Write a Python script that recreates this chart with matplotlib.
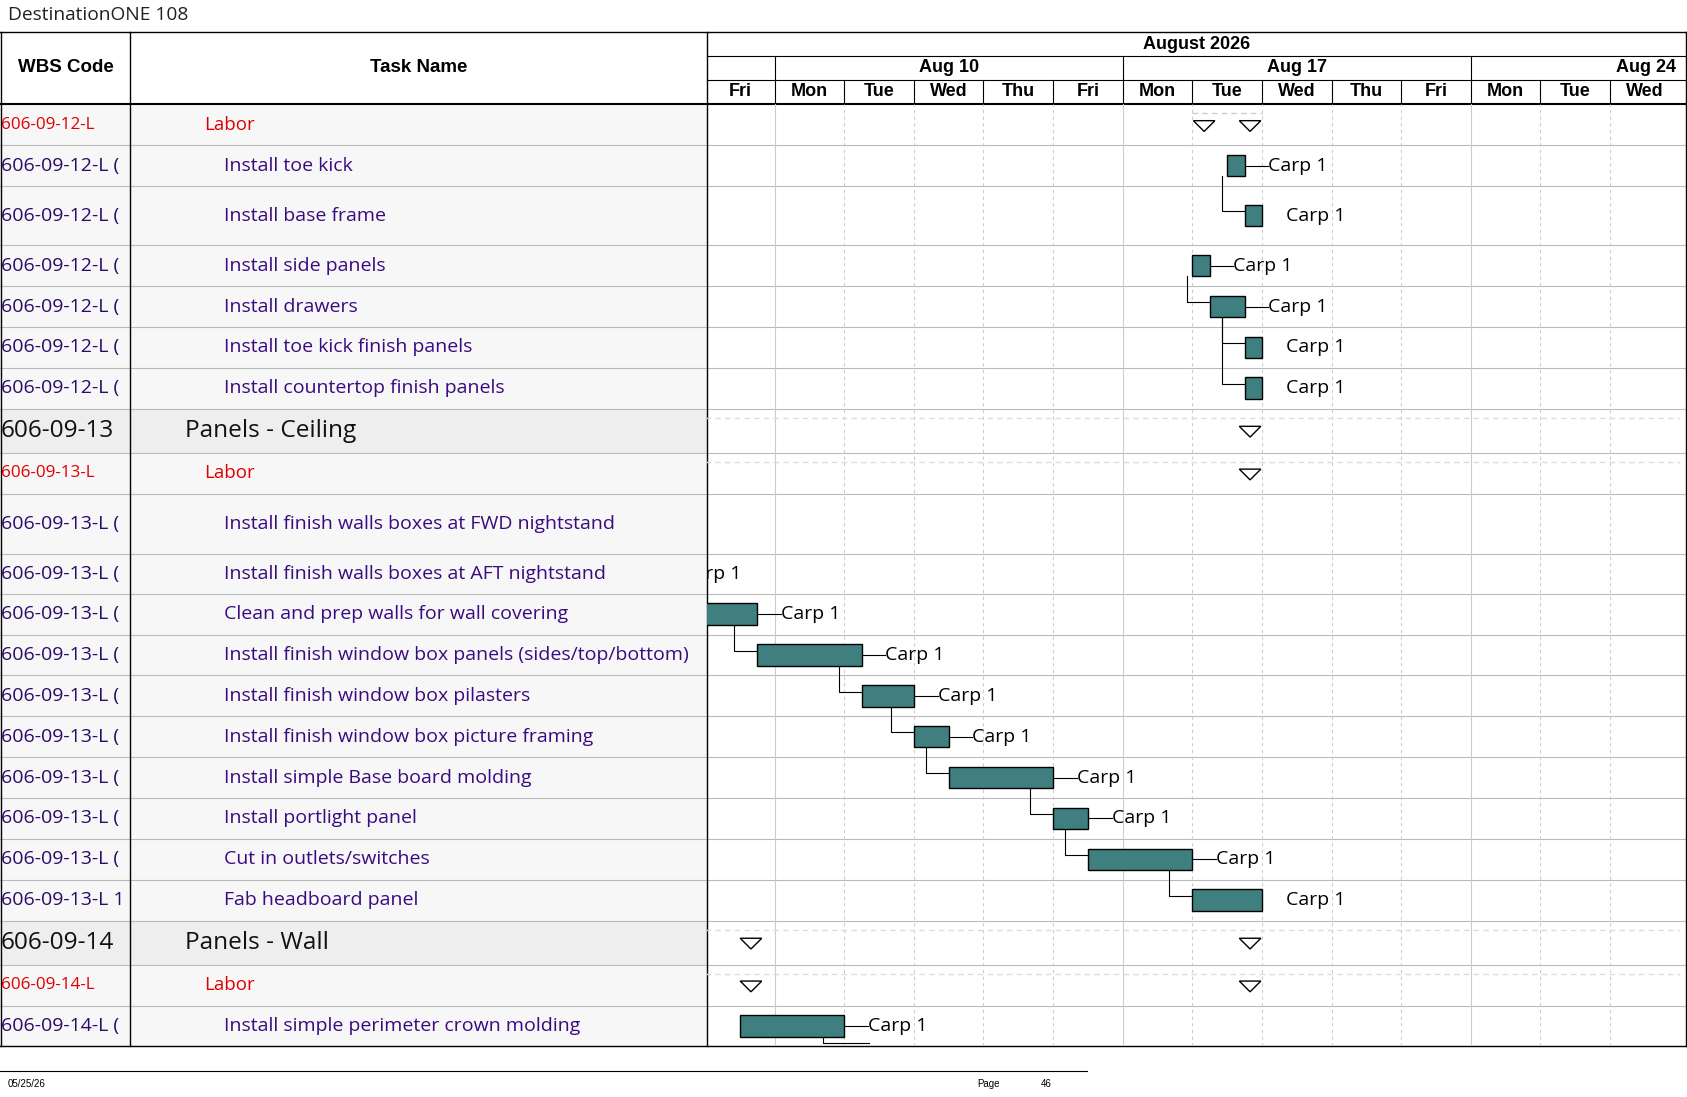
import matplotlib
matplotlib.use("Agg")
import matplotlib.pyplot as plt
from matplotlib.patches import Rectangle, Polygon

W, H = 1568.0, 1020.0
FONT = "Open Sans"
HFONT = "Liberation Sans"

# ---- data ----
wbs = ["606-09-12-L", "606-09-12-L (", "606-09-12-L (", "606-09-12-L (", "606-09-12-L (",
       "606-09-12-L (", "606-09-12-L (", "606-09-13", "606-09-13-L", "606-09-13-L (",
       "606-09-13-L (", "606-09-13-L (", "606-09-13-L (", "606-09-13-L (", "606-09-13-L (",
       "606-09-13-L (", "606-09-13-L (", "606-09-13-L (", "606-09-13-L 1", "606-09-14",
       "606-09-14-L", "606-09-14-L ("]
tasks = ["Labor", "Install toe kick", "Install base frame", "Install side panels", "Install drawers",
         "Install toe kick finish panels", "Install countertop finish panels", "Panels - Ceiling", "Labor",
         "Install finish walls boxes at FWD nightstand", "Install finish walls boxes at AFT nightstand",
         "Clean and prep walls for wall covering", "Install finish window box panels (sides/top/bottom)",
         "Install finish window box pilasters", "Install finish window box picture framing",
         "Install simple Base board molding", "Install portlight panel", "Cut in outlets/switches",
         "Fab headboard panel", "Panels - Wall", "Labor", "Install simple perimeter crown molding"]
kinds = ["labor", "task", "task", "task", "task", "task", "task", "section", "labor", "task", "task",
         "task", "task", "task", "task", "task", "task", "task", "task", "section", "labor", "task"]
row_edges = [97, 135, 173, 228, 266, 304, 342, 380, 421, 459, 515, 552, 590, 628, 666, 704,
             742, 780, 818, 856, 897, 935, 973]
# bars: (row, start day, end day) in working-day units from Fri Aug 7
bar_rows = [1, 2, 3, 4, 5, 6, 11, 12, 13, 14, 15, 16, 17, 18, 21]
bar_start = [7.5, 7.75, 7.0, 7.25, 7.75, 7.75, 0.0, 0.75, 2.25, 3.0, 3.5, 5.0, 5.5, 7.0, 0.5]
bar_end = [7.75, 8.0, 7.25, 7.75, 8.0, 8.0, 0.75, 2.25, 3.0, 3.5, 5.0, 5.5, 7.0, 8.0, 2.0]
bar_label = "Carp 1"
links = [(0, 1, 7.42), (2, 3, 6.92), (3, 4, 7.42), (3, 5, 7.42), (6, 7, 0.42), (7, 8, 1.92),
         (8, 9, 2.67), (9, 10, 3.17), (10, 11, 4.67), (11, 12, 5.17), (12, 13, 6.67)]
summ_rows = [0, 7, 8, 19, 20]
summ_marks = [[7.17, 7.83], [7.83], [7.83], [0.66, 7.83], [0.66, 7.83]]
days = ["Fri", "Mon", "Tue", "Wed", "Thu", "Fri", "Mon", "Tue", "Wed", "Thu", "Fri", "Mon", "Tue", "Wed"]
weeks = [(1, 6, "Aug 10", "center"), (6, 11, "Aug 17", "center"), (11, 14, "Aug 24", "right")]

fig = plt.figure(figsize=(16.87, 10.97), dpi=100)
ax = fig.add_axes([0, 0, 1, 1])
ax.set_xlim(0, W); ax.set_ylim(H, 0); ax.axis("off")
wx = fig.add_axes([0, 0, 121 / W, 1])
wx.set_xlim(0, 121); wx.set_ylim(H, 0); wx.axis("off"); wx.patch.set_alpha(0)

ax.text(7, 14, "DestinationONE 108", fontsize=13.8, family=FONT, va="center", ha="left", color="#222")

for i in range(len(tasks)):
    y0, y1 = row_edges[i], row_edges[i + 1]
    fc = "#eeeeee" if kinds[i] == "section" else "#f7f7f7"
    ax.add_patch(Rectangle((0, y0), 657, y1 - y0, fc=fc, ec="none", zorder=0))
    ax.plot([0, W], [y1, y1], color="#bbbbbb", lw=0.8, zorder=1)
    yc = (y0 + y1) / 2
    if kinds[i] == "section":
        wx.text(1, yc, wbs[i], fontsize=17.6, family=FONT, va="center", color="#111", clip_on=True)
        ax.text(172, yc, tasks[i], fontsize=17.6, family=FONT, va="center", color="#111")
    elif kinds[i] == "labor":
        wx.text(1, yc, wbs[i], fontsize=12.3, family=FONT, va="center", color="#e00000", clip_on=True)
        ax.text(190, yc, tasks[i], fontsize=13.5, family=FONT, va="center", color="#e00000")
    else:
        wx.text(1, yc, wbs[i], fontsize=14, family=FONT, va="center", color="#2a0a6a", clip_on=True)
        ax.text(208, yc, tasks[i], fontsize=14, family=FONT, va="center", color="#3a0a80")

ax.text(61, 63, "WBS Code", fontsize=13.5, family=HFONT, weight="bold", ha="center", va="center")
ax.text(389, 63, "Task Name", fontsize=13.5, family=HFONT, weight="bold", ha="center", va="center")
ax.plot([0, W], [30, 30], color="black", lw=1)
ax.plot([0, W], [97, 97], color="black", lw=1.5)
ax.plot([0, W], [973, 973], color="black", lw=1)
for x in [0.5, 121, 657]:
    ax.plot([x, x], [30, 973], color="black", lw=1)
ax.plot([W - 0.5, W - 0.5], [30, 973], color="black", lw=1)
ax.plot([657, W], [52, 52], color="black", lw=0.8)
ax.plot([657, W], [74, 74], color="black", lw=0.8)
ax.text((657 + W) / 2, 41, "August 2026", fontsize=13, family=HFONT, weight="bold", ha="center", va="center")

dw = 64.7
x0 = 720.0 - dw
for d, lab in enumerate(days):
    xc = max(x0 + (d + 0.5) * dw, 688)
    ax.text(xc, 85, lab, fontsize=13, family=HFONT, weight="bold", ha="center", va="center")
    if d > 0:
        ax.plot([x0 + d * dw] * 2, [74, 97], color="black", lw=0.8)
for s, e, lab, ha in weeks:
    ax.plot([x0 + s * dw] * 2, [52, 74], color="black", lw=0.8)
    xt = x0 + (s + e) / 2 * dw if ha == "center" else W - 10
    ax.text(xt, 63, lab, fontsize=13, family=HFONT, weight="bold", ha=ha, va="center")

ax.plot([0, 1010], [996, 996], color="black", lw=0.8)
ax.text(7, 1008, "05/25/26", fontsize=7, family=HFONT, va="center")
ax.text(908, 1008, "Page", fontsize=7, family=HFONT, va="center")
ax.text(967, 1008, "46", fontsize=7, family=HFONT, va="center")

# ---- gantt axes ----
gx = fig.add_axes([657 / W, (H - 973) / H, (W - 657) / W, (973 - 97) / H])
gx.set_xlim((657 - x0) / dw, (W - x0) / dw); gx.set_ylim(973, 97); gx.axis("off")
gx.patch.set_alpha(0)
for d in range(1, 14):
    if d in (1, 6, 11):
        gx.axvline(d, color="#cccccc", lw=0.8, zorder=0)
    else:
        gx.axvline(d, color="#cccccc", lw=0.8, ls=(0, (3, 3)), zorder=0)

px = 1 / dw
for r, marks in zip(summ_rows, summ_marks):
    y0, y1 = row_edges[r], row_edges[r + 1]
    ytop = y0 + 0.22 * (y1 - y0)
    if r == 0:
        gx.plot([7.0, 8.0], [ytop, ytop], color="#cccccc", lw=1, ls=(0, (4, 3)))
    else:
        gx.plot([0, 14], [ytop, ytop], color="#dddddd", lw=1, ls=(0, (4, 3)))
    yt = y0 + 0.4 * (y1 - y0)
    for m in marks:
        gx.add_patch(Polygon([(m - 10 * px, yt), (m + 10 * px, yt), (m, yt + 10)], closed=True,
                             fc="white", ec="black", lw=1, zorder=3))

bh = 20
for r, s, e in zip(bar_rows, bar_start, bar_end):
    yc = (row_edges[r] + row_edges[r + 1]) / 2
    gx.add_patch(Rectangle((s, yc - bh / 2), e - s, bh, fc="#3f7f7f", ec="black", lw=1, zorder=3))
    if e < 8.0 or r > 6 and r != 18:
        gx.plot([e, e + 22 * px], [yc, yc], color="black", lw=0.8, zorder=2)
    gx.text(e + 22 * px, yc, bar_label, fontsize=14, family=FONT, va="center", ha="left", zorder=4)

yc = (row_edges[10] + row_edges[11]) / 2
gx.text(-0.33, yc, bar_label, fontsize=14, family=FONT, va="center", ha="left", clip_on=True)

for p, q, vx in links:
    rp, rq = bar_rows[p], bar_rows[q]
    ypb = (row_edges[rp] + row_edges[rp + 1]) / 2 + bh / 2
    yq = (row_edges[rq] + row_edges[rq + 1]) / 2 - 4
    gx.plot([vx, vx, bar_start[q]], [ypb, yq, yq], color="black", lw=0.8, zorder=2)
yb = (row_edges[21] + row_edges[22]) / 2 + bh / 2
gx.plot([1.7, 1.7, 2.35], [yb, 970, 970], color="black", lw=0.8, clip_on=False)

fig.savefig("out.png", dpi=100)
